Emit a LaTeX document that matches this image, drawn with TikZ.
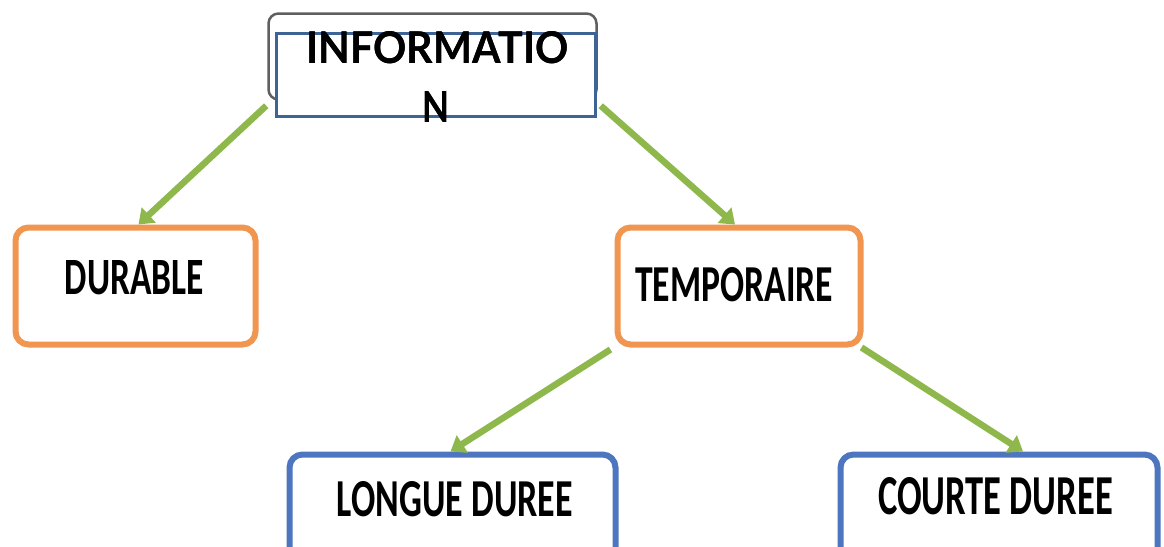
\documentclass[tikz,border=0pt]{standalone}
\usepackage{fontspec}
\usepackage{graphicx}
\usepackage[outline]{contour}
\usetikzlibrary{arrows.meta}
\newfontfamily\headfont{Lato}
\newfontfamily\boxfont{Carlito}
\definecolor{framegrey}{RGB}{95,95,95}
\definecolor{headblue}{RGB}{62,100,150}
\definecolor{leafblue}{RGB}{78,118,192}
\definecolor{boxorange}{RGB}{240,150,80}
\definecolor{arrowgreen}{RGB}{143,184,76}
\tikzset{
  box/.style={rectangle, rounded corners=13pt, line width=6pt, fill=white, inner sep=0pt},
  midbox/.style={box, draw=boxorange},
  leafbox/.style={box, draw=leafblue},
  label text/.style={inner sep=0pt, text=black},
  branch/.style={draw=arrowgreen, line width=6.5pt,
    -{Triangle[length=14pt, width=20pt]}},
}
\contourlength{0.22pt}
\newcommand{\headtxt}[3]{\resizebox{#1pt}{#2pt}{\contour{black}{\headfont\bfseries #3}}}
\newcommand{\boxtxt}[3]{\resizebox{#1pt}{#2pt}{\boxfont\bfseries #3}}
\begin{document}
\begin{tikzpicture}[x=1pt, y=-1pt]
  \useasboundingbox (0,0) rectangle (1164,546);
  \fill[white] (0,0) rectangle (1164,546);
  \clip (0,0) rectangle (1164,546);

  % header: grey rounded frame with a blue box on top of it
  \node[rectangle, rounded corners=10pt, draw=framegrey, line width=2.5pt, fill=white,
        minimum width=328pt, minimum height=86pt, inner sep=0pt] (frame) at (432.5,56.5) {};
  \node[rectangle, draw=headblue, line width=3.5pt, fill=white,
        minimum width=319pt, minimum height=83pt, inner sep=0pt] (head) at (436,75) {};
  \node[label text] (headA) at (437.5,47.5) {\headtxt{262}{32}{INFORMATIO}};
  \node[label text] (headB) at (435.5,107) {\headtxt{27}{31}{N}};

  % second level
  \node[midbox, minimum width=240pt, minimum height=117pt] (durable) at (135.5,286) {};
  \node[label text] (durableT) at (134.5,277.5) {\boxtxt{139}{34}{DURABLE}};
  \node[midbox, minimum width=243pt, minimum height=117pt] (temp) at (739,286) {};
  \node[label text] (tempT) at (734,285) {\boxtxt{198}{34}{TEMPORAIRE}};

  % third level
  \node[leafbox, minimum width=326pt, minimum height=120pt] (longue) at (452.5,514.5) {};
  \node[label text] (longueT) at (455,499.5) {\boxtxt{236}{35}{LONGUE DUREE}};
  \node[leafbox, minimum width=317pt, minimum height=120pt] (courte) at (999,514.5) {};
  \node[label text] (courteT) at (995.5,496.5) {\boxtxt{235}{37}{COURTE DUREE}};

  % branches
  \draw[branch] ([shift={(-1,5)}]frame.south west) -- ([shift={(3,0)}]durable.north);
  \draw[branch] ([shift={(3,5)}]frame.south east) -- ([shift={(-4,0)}]temp.north);
  \draw[branch] ([shift={(-4,2)}]temp.south west) -- ([shift={(-2,0)}]longue.north);
  \draw[branch] ([shift={(-2,0)}]temp.south east) -- ([shift={(24,0)}]courte.north);
\end{tikzpicture}
\end{document}
